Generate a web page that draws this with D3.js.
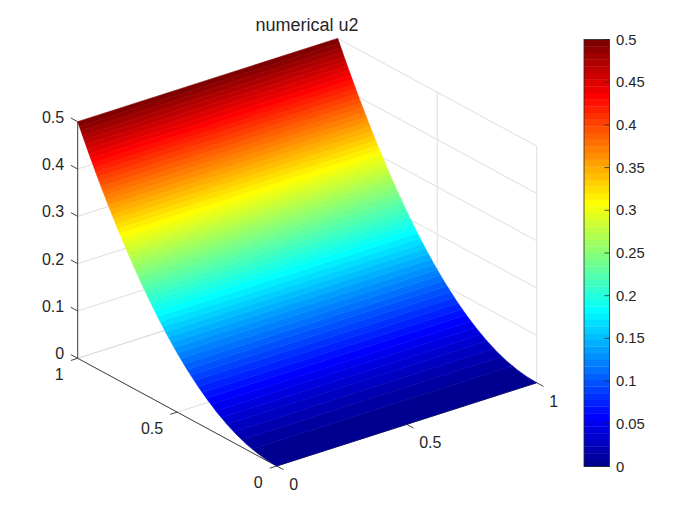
<!DOCTYPE html>
<html>
<head>
<meta charset="utf-8">
<script src="https://cdn.jsdelivr.net/npm/d3@7"></script>
<style>
html,body{margin:0;padding:0;background:#fff;}
svg{display:block;}
text{font-family:"Liberation Sans",Arial,sans-serif;fill:#262626;}
</style>
</head>
<body>
<svg id="chart" width="700" height="525"></svg>
<script>
// --- data ---
const titleText = "numerical u2";
const xTicks = [0, 0.5, 1];
const yTicks = [0, 0.5, 1];
const zTicks = [0, 0.1, 0.2, 0.3, 0.4, 0.5];
const colorbarTicks = [0, 0.05, 0.1, 0.15, 0.2, 0.25, 0.3, 0.35, 0.4, 0.45, 0.5];
const surfaceX = [0, 1];
const surfaceY = [0, 0.05, 0.1, 0.15, 0.2, 0.25, 0.3, 0.35, 0.4, 0.45, 0.5,
                  0.55, 0.6, 0.65, 0.7, 0.75, 0.8, 0.85, 0.9, 0.95, 1];
const surfaceU = [0, 0.00125, 0.005, 0.01125, 0.02, 0.03125, 0.045, 0.06125, 0.08, 0.10125, 0.125,
                  0.15125, 0.18, 0.21125, 0.245, 0.28125, 0.32, 0.36125, 0.405, 0.45125, 0.5];
const jetStops = [0, 0.125, 0.375, 0.625, 0.875, 1];
const jetColors = ["#000080", "#0000ff", "#00ffff", "#ffff00", "#ff0000", "#800000"];
const colorLevels = 64;

// --- scales ---
const svg = d3.select("#chart");
const soft = svg.append("defs").append("filter").attr("id", "soft")
  .attr("x", "-2%").attr("y", "-2%").attr("width", "104%").attr("height", "104%")
  .attr("color-interpolation-filters", "sRGB");
soft.append("feGaussianBlur").attr("stdDeviation", 0.55);

const jet = d3.scaleLinear().domain(jetStops).range(jetColors).interpolate(d3.interpolateRgb);
const xPx = d3.scaleLinear().domain([0, 1]).range([0, 260]);
const xPy = d3.scaleLinear().domain([0, 1]).range([0, -83.3]);
const yPx = d3.scaleLinear().domain([0, 1]).range([0, -199]);
const yPy = d3.scaleLinear().domain([0, 1]).range([0, -107.7]);
const zPy = d3.scaleLinear().domain([0, 0.5]).range([0, -236.6]);
const ox = 276.7, oy = 466;
const proj = (x, y, z) => [ox + xPx(x) + yPx(y), oy + xPy(x) + yPy(y) + zPy(z)];
const line = d3.line();
const uToY = d3.scaleLinear().domain(surfaceU).range(surfaceY);

// --- grid (back walls and floor) ---
const grid = svg.append("g").attr("fill", "none").attr("stroke", "#dedede").attr("stroke-width", 1);
const gridSeg = (a, b) => grid.append("path").attr("d", line([proj(...a), proj(...b)]));
const zMax = zTicks[zTicks.length - 1];
zTicks.forEach(z => {
  gridSeg([0, 1, z], [1, 1, z]);
  gridSeg([1, 1, z], [1, 0, z]);
});
xTicks.forEach(x => {
  gridSeg([x, 1, 0], [x, 1, zMax]);
  gridSeg([x, 0, 0], [x, 1, 0]);
});
yTicks.forEach(y => {
  gridSeg([1, y, 0], [1, y, zMax]);
  gridSeg([0, y, 0], [1, y, 0]);
});

// --- axes lines and ticks ---
const axes = svg.append("g").attr("fill", "none").attr("stroke", "#303030").attr("stroke-width", 0.9);
const axisSeg = (a, b) => axes.append("path").attr("d", line([a, b]));
axisSeg(proj(0, 0, 0), proj(1, 0, 0));
axisSeg(proj(0, 0, 0), proj(0, 1, 0));
axisSeg(proj(0, 1, 0), proj(0, 1, zMax));
const tickLen = 0.0265;
xTicks.forEach(x => axisSeg(proj(x, 0, 0), proj(x, -tickLen * 1.3, 0)));
yTicks.forEach(y => axisSeg(proj(0, y, 0), proj(-tickLen, y, 0)));
zTicks.forEach(z => axisSeg(proj(0, 1, z), proj(0, 1 + tickLen * 1.3, z)));

// --- surface: one band per colormap level ---
const surf = svg.append("g").attr("filter", "url(#soft)");
const bandEdge = k => k * zMax / colorLevels;
d3.range(colorLevels).forEach(k => {
  const u0 = bandEdge(k), u1 = bandEdge(k + 1);
  const ys = [uToY(u0), ...surfaceY.filter((y, i) => surfaceU[i] > u0 && surfaceU[i] < u1), uToY(u1)];
  const us = [u0, ...surfaceU.filter(u => u > u0 && u < u1), u1];
  const front = ys.map((y, i) => proj(surfaceX[0], y, us[i]));
  const back = ys.map((y, i) => proj(surfaceX[1], y, us[i])).reverse();
  const col = jet((k + 1) / colorLevels);
  surf.append("path")
    .attr("d", line([...front, ...back]) + "Z")
    .attr("fill", col).attr("stroke", col).attr("stroke-width", 0.6);
});

// --- tick labels ---
const labels = svg.append("g").attr("font-size", 16).attr("dominant-baseline", "central");
xTicks.forEach(x => {
  const p = proj(x, 0, 0);
  labels.append("text").attr("x", p[0] + 12.5).attr("y", p[1] + 18.5).text(d3.format("~g")(x));
});
yTicks.forEach(y => {
  const p = proj(0, y, 0);
  labels.append("text").attr("x", p[0] - 14).attr("y", p[1] + 16).attr("text-anchor", "end").text(d3.format("~g")(y));
});
zTicks.forEach(z => {
  const p = proj(0, 1, z);
  labels.append("text").attr("x", p[0] - 13.5).attr("y", p[1] - 4.5).attr("text-anchor", "end").text(d3.format("~g")(z));
});

// --- title ---
svg.append("text").attr("x", 307).attr("y", 31).attr("text-anchor", "middle")
  .attr("font-size", 18).text(titleText);

// --- colorbar ---
const cbLeft = 584, cbRight = 609.5, cbTop = 39.5, cbBottom = 466.5;
const cbScale = d3.scaleLinear().domain([0, zMax]).range([cbBottom, cbTop]);
const cbFill = svg.append("g").attr("filter", "url(#soft)");
d3.range(colorLevels).forEach(k => {
  cbFill.append("rect")
    .attr("x", cbLeft).attr("width", cbRight - cbLeft)
    .attr("y", cbScale(bandEdge(k + 1))).attr("height", cbScale(bandEdge(k)) - cbScale(bandEdge(k + 1)) + 0.3)
    .attr("fill", jet((k + 1) / colorLevels));
});
const cb = svg.append("g");
cb.append("rect").attr("x", cbLeft).attr("y", cbTop).attr("width", cbRight - cbLeft).attr("height", cbBottom - cbTop)
  .attr("fill", "none").attr("stroke", "#262626").attr("stroke-width", 0.8);
colorbarTicks.forEach(t => {
  const y = cbScale(t);
  cb.append("path").attr("d", line([[cbRight - 5, y], [cbRight, y]]))
    .attr("stroke", "#262626").attr("stroke-width", 0.8).attr("fill", "none");
  cb.append("text").attr("x", 616).attr("y", y).attr("font-size", 14.8)
    .attr("dominant-baseline", "central").text(d3.format("~g")(t));
});
</script>
</body>
</html>
